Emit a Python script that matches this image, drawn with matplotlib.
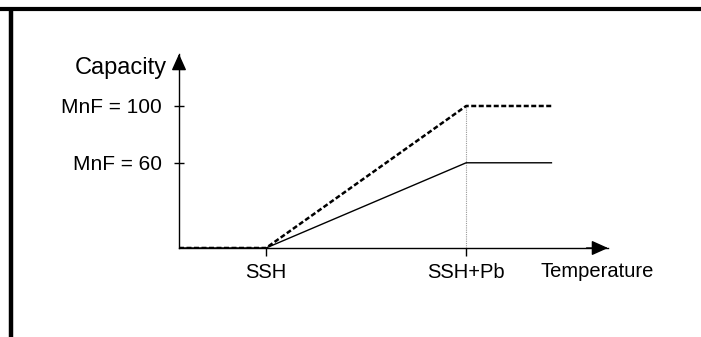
import matplotlib
matplotlib.use("Agg")
import matplotlib.pyplot as plt
from matplotlib.lines import Line2D
from matplotlib.patches import ArrowStyle

plt.rcParams["font.family"] = ["Liberation Sans", "DejaVu Sans"]

# ------------------------------------------------------------
# data (temperature in SSH units, capacity in %)
# ------------------------------------------------------------
x_ssh = 1.0
x_pb = 3.3            # SSH + Pb
x_end = 4.28
x_max = 4.93          # arrow tip of temperature axis
y_max = 136.6         # arrow tip of capacity axis

temp_pts = [0.0, x_ssh, x_pb, x_end]
cap_mnf100 = [0, 0, 100, 100]
cap_mnf60 = [0, 0, 60, 60]

xtick_pos = [x_ssh, x_pb]
xtick_labels = ["SSH", "SSH+Pb"]
ytick_pos = [60, 100]
ytick_labels = ["MnF = 60", "MnF = 100"]

W, H = 701, 337
fig = plt.figure(figsize=(W / 100, H / 100), dpi=100)

# frame pieces (top and left thick bars)
fig.add_artist(Line2D([0, 1], [1 - 9 / H, 1 - 9 / H], color="black", lw=3.0,
                      transform=fig.transFigure, solid_capstyle="butt"))
fig.add_artist(Line2D([10.5 / W, 10.5 / W], [0, 1 - 7 / H], color="black", lw=3.2,
                      transform=fig.transFigure, solid_capstyle="butt"))

ax = fig.add_axes([179 / W, (H - 248) / H, (608 - 179) / W, (248 - 54) / H])
ax.set_xlim(0, x_max)
ax.set_ylim(0, y_max)
ax.patch.set_alpha(0)

for side in ["top", "right"]:
    ax.spines[side].set_visible(False)
for side in ["left", "bottom"]:
    ax.spines[side].set_linewidth(1.0)

# guide line at SSH+Pb
ax.plot([x_pb, x_pb], [0, 100], color="#999999", lw=0.8, linestyle=(0, (1, 1)))

# the two capacity curves
ax.plot(temp_pts, cap_mnf60, color="black", lw=1.0)
ax.plot(temp_pts, cap_mnf100, color="black", lw=1.8, linestyle=(0, (2.0, 1.0)))

# arrow heads
head = ArrowStyle("-|>", head_length=1.0, head_width=0.45)
ax.annotate("", xy=(1, 0), xytext=(0.95, 0), xycoords="axes fraction",
            arrowprops=dict(arrowstyle=head, color="black", lw=1.0,
                            mutation_scale=10, shrinkA=0, shrinkB=0),
            annotation_clip=False)
ax.annotate("", xy=(0, 1), xytext=(0, 0.95), xycoords="axes fraction",
            arrowprops=dict(arrowstyle=head, color="black", lw=1.0,
                            mutation_scale=10, shrinkA=0, shrinkB=0),
            annotation_clip=False)

ax.set_xticks(xtick_pos, xtick_labels)
ax.set_yticks(ytick_pos, ytick_labels)
ax.tick_params(axis="x", direction="out", length=6, width=1.0, pad=4.5, labelsize=14.5)
ax.tick_params(axis="y", direction="inout", length=7, width=1.0, pad=9, labelsize=15)

ax.annotate("Capacity", xy=(0, 1), xycoords="axes fraction", xytext=(-9, -10),
            textcoords="offset points", ha="right", va="center", fontsize=17)
ax.annotate("Temperature", xy=(1, 0), xycoords="axes fraction", xytext=(-8, -17),
            textcoords="offset points", ha="center", va="center", fontsize=14.5)

fig.savefig("out.png", dpi=100)
